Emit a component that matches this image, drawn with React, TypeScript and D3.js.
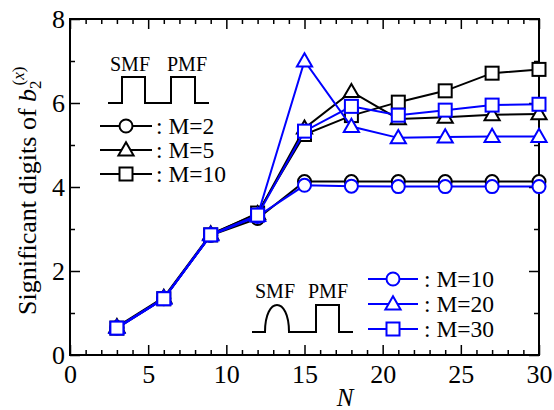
import React, {Component} from 'react';
import * as d3 from "d3";

// N values on the x axis
const nValues = [3, 6, 9, 12, 15, 18, 21, 24, 27, 30];

// SMF + PMF (rect) -- black
const rectM2 = [0.65, 1.35, 2.85, 3.25, 4.13, 4.13, 4.13, 4.13, 4.13, 4.13];
const rectM5 = [0.67, 1.37, 2.88, 3.36, 5.4, 6.27, 5.62, 5.66, 5.72, 5.74];
const rectM10 = [0.64, 1.34, 2.86, 3.38, 5.25, 5.7, 6.02, 6.29, 6.71, 6.8];

// SMF (bump) + PMF -- blue
const bumpM10 = [0.64, 1.34, 2.85, 3.3, 4.04, 4.02, 4.01, 4.01, 4.01, 4.01];
const bumpM20 = [0.65, 1.35, 2.86, 3.32, 7.0, 5.44, 5.17, 5.19, 5.2, 5.2];
const bumpM30 = [0.64, 1.34, 2.86, 3.33, 5.33, 5.92, 5.71, 5.83, 5.95, 5.97];

const xMajor = [0, 5, 10, 15, 20, 25, 30];
const yMajor = [0, 2, 4, 6, 8];

const BLUE = "#0000ff";
const FONT = '"Liberation Serif", "DejaVu Serif", serif';

const seriesList = [
  {label: ": M=2", values: rectM2, shape: "circle", color: "black"},
  {label: ": M=5", values: rectM5, shape: "triangle", color: "black"},
  {label: ": M=10", values: rectM10, shape: "square", color: "black"},
  {label: ": M=10", values: bumpM10, shape: "circle", color: BLUE},
  {label: ": M=20", values: bumpM20, shape: "triangle", color: BLUE},
  {label: ": M=30", values: bumpM30, shape: "square", color: BLUE},
];

const W = 554, H = 410;
const left = 70, right = 539, top = 19, bottom = 355;

function drawMarker(g: any, shape: string, cx: number, cy: number, color: string) {
  if (shape === "circle") {
    g.append("circle").attr("cx", cx).attr("cy", cy).attr("r", 6.5)
      .attr("fill", "white").attr("stroke", color).attr("stroke-width", 2);
  } else if (shape === "square") {
    g.append("rect").attr("x", cx - 6.5).attr("y", cy - 6.5)
      .attr("width", 13).attr("height", 13)
      .attr("fill", "white").attr("stroke", color).attr("stroke-width", 2);
  } else {
    const sym = d3.symbol().type(d3.symbolTriangle).size(100);
    g.append("path").attr("d", sym()).attr("transform", `translate(${cx},${cy + 1})`)
      .attr("fill", "white").attr("stroke", color).attr("stroke-width", 2);
  }
}

class App extends Component {
  el: any = null;

  drawChart() {
    const svg = d3.select(this.el);
    svg.selectAll("*").remove();

    const x = d3.scaleLinear().domain([0, 30]).range([left, right]);
    const y = d3.scaleLinear().domain([0, 8]).range([bottom, top]);

    const axisStyle = (g: any) => {
      g.attr("font-family", null).attr("font-size", null);
      g.select(".domain").remove();
      g.selectAll("line").attr("stroke", "black").attr("stroke-width", 1.5);
      g.selectAll("text").style("font-size", "26px").attr("fill", "black");
    };

    // minor ticks
    const minorX = d3.range(0, 31, 1).filter(v => v % 5 !== 0);
    const minorY = d3.range(0, 9, 1).filter(v => v % 2 !== 0);
    svg.append("g").attr("transform", `translate(0,${bottom})`)
      .call(d3.axisBottom(x).tickValues(minorX).tickSizeInner(-5).tickSizeOuter(0).tickFormat(() => "")).call(axisStyle);
    svg.append("g").attr("transform", `translate(0,${top})`)
      .call(d3.axisTop(x).tickValues(minorX).tickSizeInner(-5).tickSizeOuter(0).tickFormat(() => "")).call(axisStyle);
    svg.append("g").attr("transform", `translate(${left},0)`)
      .call(d3.axisLeft(y).tickValues(minorY).tickSizeInner(-5).tickSizeOuter(0).tickFormat(() => "")).call(axisStyle);
    svg.append("g").attr("transform", `translate(${right},0)`)
      .call(d3.axisRight(y).tickValues(minorY).tickSizeInner(-5).tickSizeOuter(0).tickFormat(() => "")).call(axisStyle);

    // major ticks
    svg.append("g").attr("transform", `translate(0,${bottom})`)
      .call(d3.axisBottom(x).tickValues(xMajor).tickSizeInner(-10).tickSizeOuter(0).tickPadding(10)).call(axisStyle);
    svg.append("g").attr("transform", `translate(0,${top})`)
      .call(d3.axisTop(x).tickValues(xMajor).tickSizeInner(-10).tickSizeOuter(0).tickFormat(() => "")).call(axisStyle);
    svg.append("g").attr("transform", `translate(${left},0)`)
      .call(d3.axisLeft(y).tickValues(yMajor).tickSizeInner(-10).tickSizeOuter(0).tickPadding(5)).call(axisStyle);
    svg.append("g").attr("transform", `translate(${right},0)`)
      .call(d3.axisRight(y).tickValues(yMajor).tickSizeInner(-10).tickSizeOuter(0).tickFormat(() => "")).call(axisStyle);

    // frame
    svg.append("rect").attr("x", left).attr("y", top)
      .attr("width", right - left).attr("height", bottom - top)
      .attr("fill", "none").attr("stroke", "black").attr("stroke-width", 2);

    // series
    const line = d3.line<number>().x((d, i) => x(nValues[i])).y(d => y(d));
    seriesList.forEach(s => {
      const g = svg.append("g");
      g.append("path").attr("d", line(s.values)).attr("fill", "none")
        .attr("stroke", s.color).attr("stroke-width", 2);
      s.values.forEach((v, i) => drawMarker(g, s.shape, x(nValues[i]), y(v), s.color));
    });

    // axis titles
    const yl = svg.append("text").attr("transform", "translate(36,315) rotate(-90)")
      .attr("text-anchor", "start").style("font-size", "26px");
    yl.append("tspan").text("Significant digits of ");
    yl.append("tspan").attr("font-style", "italic").text("b");
    yl.append("tspan").style("font-size", "17px").attr("dy", 5).text("2");
    const sup = yl.append("tspan").style("font-size", "17px").attr("dx", -5).attr("dy", -17);
    sup.append("tspan").text("(");
    sup.append("tspan").attr("font-style", "italic").text("x");
    sup.append("tspan").text(")");

    svg.append("text").attr("x", 345).attr("y", 406).attr("text-anchor", "middle")
      .style("font-size", "25px").attr("font-style", "italic").text("N");

    // legend 1: rect pulses
    const lg1 = svg.append("g");
    lg1.append("text").attr("x", 110).attr("y", 71).style("font-size", "20px").text("SMF");
    lg1.append("text").attr("x", 167).attr("y", 71).style("font-size", "20px").text("PMF");
    lg1.append("path").attr("d", "M108,103 H122 V77 H145 V103 H171 V77 H195 V103 H209")
      .attr("fill", "none").attr("stroke", "black").attr("stroke-width", 2);
    [0, 1, 2].forEach(i => {
      const s = seriesList[i];
      const ly = 126 + i * 24;
      lg1.append("line").attr("x1", 100).attr("x2", 152).attr("y1", ly).attr("y2", ly)
        .attr("stroke", s.color).attr("stroke-width", 2);
      drawMarker(lg1, s.shape, 126, ly, s.color);
      lg1.append("text").attr("x", 156).attr("y", ly + 8).style("font-size", "23.5px").text(s.label);
    });

    // legend 2: bump + rect
    const lg2 = svg.append("g");
    lg2.append("text").attr("x", 255).attr("y", 298).style("font-size", "20px").text("SMF");
    lg2.append("text").attr("x", 308).attr("y", 298).style("font-size", "20px").text("PMF");
    lg2.append("path").attr("d", "M252,332 H265 C265,296 289,296 289,332 H316 V305 H339 V332 H353")
      .attr("fill", "none").attr("stroke", "black").attr("stroke-width", 2);
    [3, 4, 5].forEach((si, i) => {
      const s = seriesList[si];
      const ly = 279 + i * 25;
      lg2.append("line").attr("x1", 368).attr("x2", 418).attr("y1", ly).attr("y2", ly)
        .attr("stroke", s.color).attr("stroke-width", 2);
      drawMarker(lg2, s.shape, 393, ly, s.color);
      lg2.append("text").attr("x", 424).attr("y", ly + 8).style("font-size", "23.5px").text(s.label);
    });
  }

  componentDidMount = () => {
    this.drawChart();
  }

  render() {
    return (
      <svg ref={el => { this.el = el; }} width={W} height={H}
        style={{position: "absolute", left: 0, top: 0, background: "white", fontFamily: FONT}} />
    );
  }
}

export default App;
